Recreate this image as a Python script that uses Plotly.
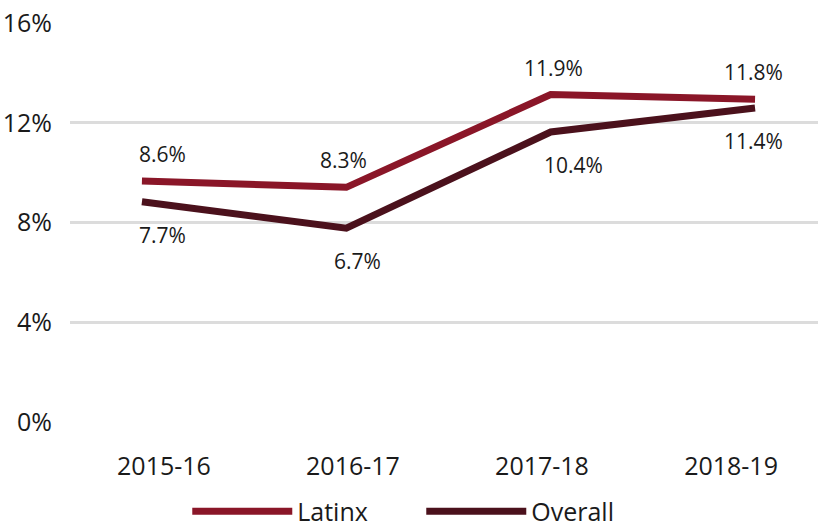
import plotly.graph_objects as go

# ---- data ----
years = ["2015-16", "2016-17", "2017-18", "2018-19"]
latinx_values = [9.66, 9.41, 13.13, 12.94]      # plotted positions (%)
overall_values = [8.83, 7.77, 11.63, 12.59]     # plotted positions (%)
latinx_labels = ["8.6%", "8.3%", "11.9%", "11.8%"]
overall_labels = ["7.7%", "6.7%", "10.4%", "11.4%"]
y_ticks = [0, 4, 8, 12, 16]

# ---- style ----
FONT = "Open Sans"
TXT = "#1a1a1a"
C_LAT = "#8a1628"
C_ALL = "#4b111c"
lat_xshift = [21, -3, 3, -2]
all_xshift = [21, 11, 23, -2]

idx = list(range(len(years)))

fig = go.Figure()
fig.add_trace(go.Scatter(x=idx, y=latinx_values, mode="lines", name="Latinx",
                         line=dict(color=C_LAT, width=7), hoverinfo="skip"))
fig.add_trace(go.Scatter(x=idx, y=overall_values, mode="lines", name="Overall",
                         line=dict(color=C_ALL, width=7), hoverinfo="skip"))
# invisible trace to carry the category tick axis
fig.add_trace(go.Scatter(x=idx, y=latinx_values, xaxis="x2", mode="lines",
                         line=dict(width=0), opacity=0, showlegend=False, hoverinfo="skip"))

ann = []
for i, (v, t) in enumerate(zip(latinx_values, latinx_labels)):
    ann.append(dict(x=i, y=v, xref="x", yref="y", text=t, showarrow=False,
                    xshift=lat_xshift[i], yshift=27,
                    font=dict(family=FONT, size=21, color=TXT)))
for i, (v, t) in enumerate(zip(overall_values, overall_labels)):
    ann.append(dict(x=i, y=v, xref="x", yref="y", text=t, showarrow=False,
                    xshift=all_xshift[i], yshift=-33,
                    font=dict(family=FONT, size=21, color=TXT)))

fig.update_layout(
    width=818, height=529,
    margin=dict(l=70, r=0, t=22.5, b=106.5, autoexpand=False),
    paper_bgcolor="white", plot_bgcolor="white",
    font=dict(family=FONT, color=TXT),
    annotations=ann,
    xaxis=dict(range=[-0.352, 3.308], showticklabels=False, showgrid=False,
               zeroline=False, showline=False, fixedrange=True),
    xaxis2=dict(overlaying="x", anchor="y", side="bottom",
                range=[-0.497, 3.46], tickmode="array", tickvals=idx, ticktext=years,
                showgrid=False, zeroline=False, showline=False,
                ticks="outside", ticklen=22, tickcolor="rgba(0,0,0,0)",
                tickfont=dict(family=FONT, size=25, color=TXT)),
    yaxis=dict(range=[0, 16], tickmode="array", tickvals=y_ticks,
               ticktext=[f"{v}%" for v in y_ticks],
               showgrid=True, gridcolor="#dcdcdc", gridwidth=2.5,
               zeroline=False, showline=False,
               ticks="outside", ticklen=12, tickcolor="rgba(0,0,0,0)",
               tickfont=dict(family=FONT, size=25, color=TXT)),
    showlegend=True,
    legend=dict(orientation="h", x=0.515, xanchor="center", xref="container",
                y=0.033, yanchor="middle", yref="container",
                itemwidth=100, entrywidth=119, entrywidthmode="pixels",
                font=dict(family=FONT, size=25, color=TXT),
                bgcolor="rgba(0,0,0,0)"),
)

fig.write_html("out.html")
